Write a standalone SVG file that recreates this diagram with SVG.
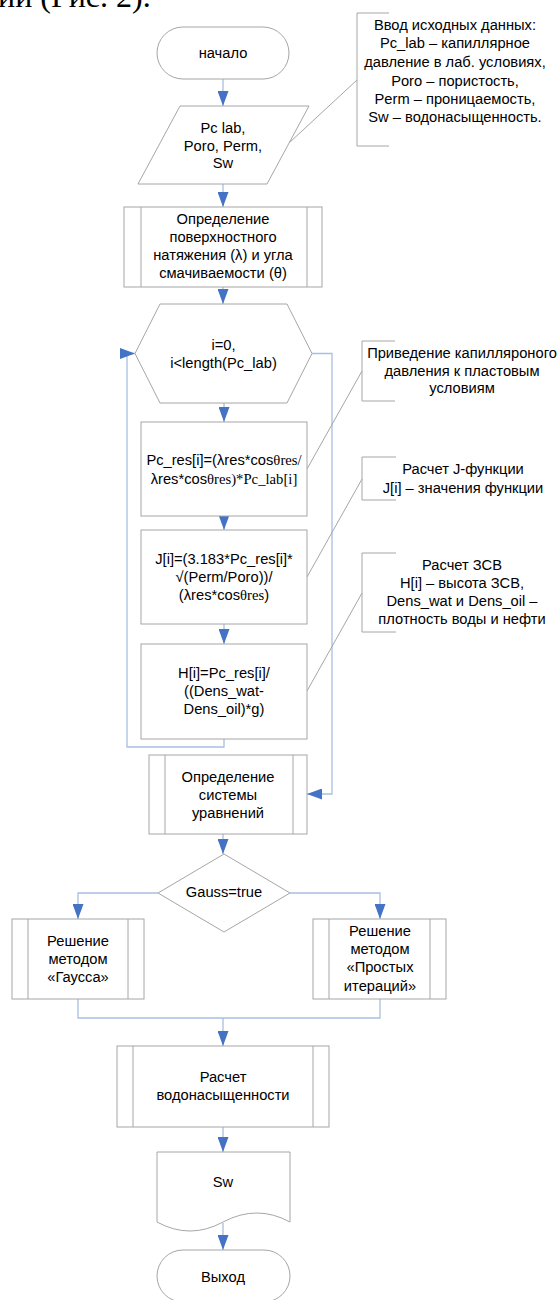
<svg xmlns="http://www.w3.org/2000/svg" width="559" height="1300" viewBox="0 0 559 1300">
<defs>
<marker id="ah" markerUnits="userSpaceOnUse" markerWidth="15" markerHeight="11" refX="15" refY="5.5" orient="auto">
<path d="M0,0 L15,5.5 L0,11 z" fill="#4472C4"/>
</marker>
<style>
.s{fill:#fff;stroke:#A6A6A6;stroke-width:1}
.c{fill:none;stroke:#A9BFE2;stroke-width:1.3}
.a{fill:none;stroke:#A6A6A6;stroke-width:1}
.t{font-family:"Liberation Sans",Arial,sans-serif;font-size:14.7px;fill:#000;text-anchor:middle}
.sf{font-family:"Liberation Serif","Times New Roman",serif}
</style>
</defs>
<rect width="559" height="1300" fill="#fff"/>
<text x="-2" y="7" style="font-family:'Liberation Serif',serif;font-size:32px;fill:#000">ии (Рис. 2).</text>

<g id="connectors">
<line class="c" x1="223" y1="79" x2="223" y2="106" marker-end="url(#ah)"/>
<line class="c" x1="223" y1="184" x2="223" y2="207" marker-end="url(#ah)"/>
<line class="c" x1="223" y1="287" x2="223" y2="304" marker-end="url(#ah)"/>
<line class="c" x1="224" y1="403" x2="224" y2="422" marker-end="url(#ah)"/>
<line class="c" x1="224" y1="516" x2="224" y2="530" marker-end="url(#ah)"/>
<line class="c" x1="224" y1="624" x2="224" y2="644" marker-end="url(#ah)"/>
<path class="c" d="M224,739 V747 H127 V353.5 H135" marker-end="url(#ah)"/>
<path class="c" d="M312,353.5 H332 V794 H307" marker-end="url(#ah)"/>
<line class="c" x1="223" y1="834" x2="223" y2="854" marker-end="url(#ah)"/>
<path class="c" d="M158,893 H78 V919" marker-end="url(#ah)"/>
<path class="c" d="M290,893 H380 V919" marker-end="url(#ah)"/>
<path class="c" d="M78,999 V1018 H380 V999"/>
<line class="c" x1="223" y1="1018" x2="223" y2="1046" marker-end="url(#ah)"/>
<line class="c" x1="223" y1="1127" x2="223" y2="1152" marker-end="url(#ah)"/>
<line class="c" x1="223" y1="1223" x2="223" y2="1250" marker-end="url(#ah)"/>
<line class="a" x1="357" y1="80" x2="289" y2="143"/>
<line class="a" x1="362" y1="371" x2="307" y2="469"/>
<line class="a" x1="362" y1="479" x2="307" y2="577"/>
<line class="a" x1="362" y1="593" x2="307" y2="691"/>
</g>

<g id="start">
<rect class="s" x="157" y="27" width="132" height="52" rx="26"/>
<text class="t" x="223" y="58">начало</text>
</g>

<g id="input">
<polygon class="s" points="180,106 309,106 267,184 138,184"/>
<text class="t" x="223" y="133">Pc lab,</text>
<text class="t" x="223" y="151">Poro, Perm,</text>
<text class="t" x="223" y="168">Sw</text>
</g>

<g id="note1">
<path class="a" d="M389,13 H357 V146 H389"/>
<text class="t" x="455" y="30">Ввод исходных данных:</text>
<text class="t" x="455" y="48">Pc_lab – капиллярное</text>
<text class="t" x="455" y="67">давление в лаб. условиях,</text>
<text class="t" x="455" y="86">Poro – пористость,</text>
<text class="t" x="455" y="104">Perm – проницаемость,</text>
<text class="t" x="455" y="122">Sw – водонасыщенность.</text>
</g>

<g id="surface">
<rect class="s" x="124" y="207" width="198" height="80"/>
<line class="s" x1="141" y1="207" x2="141" y2="287"/>
<line class="s" x1="307" y1="207" x2="307" y2="287"/>
<text class="t" x="223" y="224">Определение</text>
<text class="t" x="223" y="242">поверхностного</text>
<text class="t" x="223" y="260">натяжения (λ) и угла</text>
<text class="t" x="223" y="278">смачиваемости (θ)</text>
</g>

<g id="loop">
<polygon class="s" points="160,304 287,304 312,353.5 287,403 160,403 135,353.5"/>
<text class="t" x="223.5" y="350">i=0,</text>
<text class="t" x="223.5" y="368">i&lt;length(Pc_lab)</text>
</g>

<g id="note2">
<path class="a" d="M395,341 H362 V401 H395"/>
<text class="t" x="462" y="358">Приведение капилляроного</text>
<text class="t" x="462" y="376">давления к пластовым</text>
<text class="t" x="462" y="393">условиям</text>
</g>

<g id="pcres">
<rect class="s" x="141" y="422" width="166" height="94"/>
<text class="t" x="224" y="465">Pc_res[i]=(λres*cos<tspan class="sf">θres/</tspan></text>
<text class="t" x="224" y="484">λres*cos<tspan class="sf">θres)*Pc_lab[i]</tspan></text>
</g>

<g id="note3">
<path class="a" d="M396,457 H362 V500 H396"/>
<text class="t" x="463" y="474">Расчет J-функции</text>
<text class="t" x="463" y="493">J[i] – значения функции</text>
</g>

<g id="jfunc">
<rect class="s" x="141" y="530" width="166" height="94"/>
<text class="t" x="224" y="564">J[i]=(3.183*Pc_res[i]*</text>
<text class="t" x="224" y="582">√(Perm/Poro))/</text>
<text class="t" x="224" y="600">(λres*cos<tspan class="sf">θres</tspan>)</text>
</g>

<g id="note4">
<path class="a" d="M396,553 H362 V632 H396"/>
<text class="t" x="462" y="570">Расчет ЗСВ</text>
<text class="t" x="462" y="588">H[i] – высота ЗСВ,</text>
<text class="t" x="462" y="606">Dens_wat и Dens_oil –</text>
<text class="t" x="462" y="624">плотность воды и нефти</text>
</g>

<g id="height">
<rect class="s" x="141" y="644" width="166" height="95"/>
<text class="t" x="224" y="678">H[i]=Pc_res[i]/</text>
<text class="t" x="224" y="696">((Dens_wat-</text>
<text class="t" x="224" y="714">Dens_oil)*g)</text>
</g>

<g id="system">
<rect class="s" x="149" y="755" width="158" height="79"/>
<line class="s" x1="165" y1="755" x2="165" y2="834"/>
<line class="s" x1="293" y1="755" x2="293" y2="834"/>
<text class="t" x="228" y="782">Определение</text>
<text class="t" x="228" y="800">системы</text>
<text class="t" x="228" y="818">уравнений</text>
</g>

<g id="decision">
<polygon class="s" points="224,854 290,893 224,932 158,893"/>
<text class="t" x="224" y="897">Gauss=true</text>
</g>

<g id="gauss">
<rect class="s" x="12" y="919" width="132" height="80"/>
<line class="s" x1="28" y1="919" x2="28" y2="999"/>
<line class="s" x1="128" y1="919" x2="128" y2="999"/>
<text class="t" x="78" y="946">Решение</text>
<text class="t" x="78" y="964">методом</text>
<text class="t" x="78" y="982">«Гаусса»</text>
</g>

<g id="iter">
<rect class="s" x="313" y="919" width="133" height="80"/>
<line class="s" x1="329" y1="919" x2="329" y2="999"/>
<line class="s" x1="430" y1="919" x2="430" y2="999"/>
<text class="t" x="380" y="936">Решение</text>
<text class="t" x="380" y="954">методом</text>
<text class="t" x="380" y="972">«Простых</text>
<text class="t" x="380" y="991">итераций»</text>
</g>

<g id="sw-calc">
<rect class="s" x="117" y="1046" width="212" height="81"/>
<line class="s" x1="133" y1="1046" x2="133" y2="1127"/>
<line class="s" x1="313" y1="1046" x2="313" y2="1127"/>
<text class="t" x="223" y="1082">Расчет</text>
<text class="t" x="223" y="1100">водонасыщенности</text>
</g>

<g id="output">
<path class="s" d="M157,1152 H290 V1222 Q257,1204 223,1222 Q190,1240 157,1222 Z"/>
<text class="t" x="223" y="1187">Sw</text>
</g>

<g id="end">
<rect class="s" x="157" y="1250" width="133" height="52" rx="26"/>
<text class="t" x="223" y="1282">Выход</text>
</g>
</svg>
